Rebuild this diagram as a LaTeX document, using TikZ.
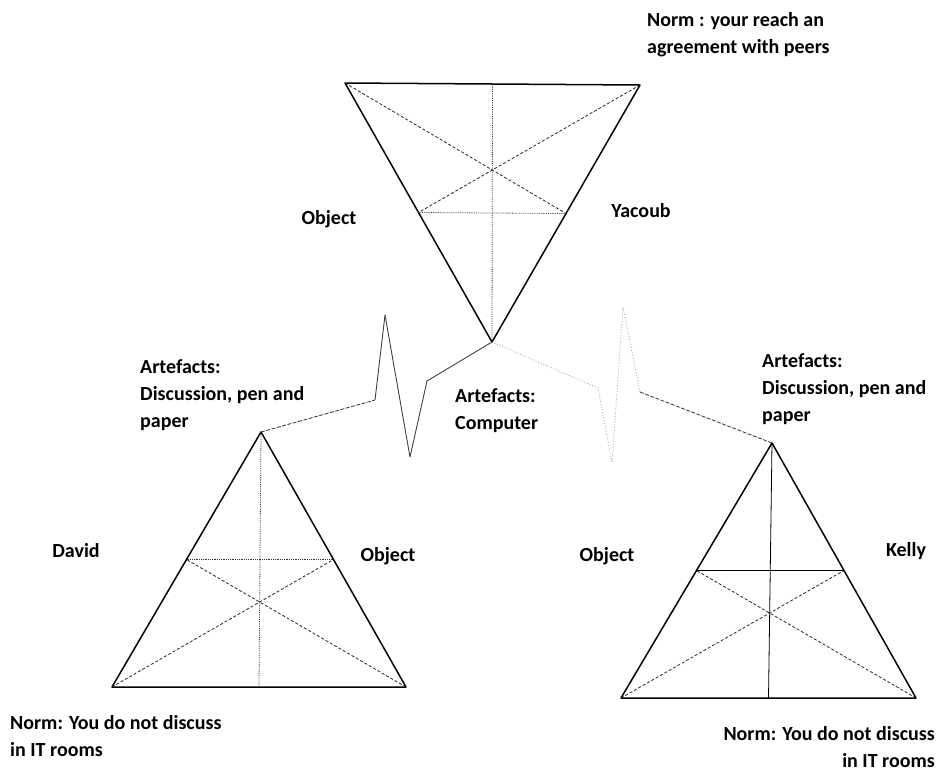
\documentclass[tikz,border=0pt]{standalone}
\usepackage{fontspec}
\setmainfont{Carlito}
\usepackage{tikz}
\usetikzlibrary{calc}
\tikzset{
  tri-edge/.style={draw=black,line width=1.5pt,line join=round},
  tri-median/.style={draw=black!85,line width=0.8pt,dash pattern=on 3pt off 2pt},
  tri-axis/.style={draw=black!80,line width=0.8pt,densely dotted},
  link/.style={draw=black!80,line width=0.8pt,dash pattern=on 4pt off 1.5pt},
  zig-dark/.style={draw=black!75,line width=0.9pt,line join=round},
  zig-faint/.style={draw=black!40,line width=0.8pt,dotted},
  lbl/.style={font=\bfseries\fontsize{20}{27}\selectfont,inner sep=0pt,align=left},
}
\begin{document}
\begin{tikzpicture}[x=1pt,y=-1pt]
  \useasboundingbox (0,0) rectangle (942,772);
  % triangle corners (apex first)
  \coordinate (tb) at (492,342); \coordinate (tl) at (345,83);  \coordinate (tr) at (640,85);
  \coordinate (la) at (261,432); \coordinate (ll) at (112,687); \coordinate (lr) at (406,687);
  \coordinate (ra) at (772,443); \coordinate (rl) at (621,698); \coordinate (rr) at (916,698);
  \foreach \a/\b/\c/\ax in {tb/tl/tr/tri-axis,la/ll/lr/tri-axis,ra/rl/rr/tri-edge}{
    \draw[tri-edge] (\a) -- (\b) -- (\c) -- cycle;
    \draw[\ax,line width=0.8pt] (\a) -- ($(\b)!0.5!(\c)$);
    \draw[tri-median] (\b) -- ($(\a)!0.5!(\c)$);
    \draw[tri-median] (\c) -- ($(\a)!0.5!(\b)$);
    \draw[\ax,line width=0.8pt] ($(\a)!0.5!(\b)$) -- ($(\a)!0.5!(\c)$);
  }
  % zigzag links
  \coordinate (z1) at (375,400); \coordinate (z2) at (385,315);
  \coordinate (z3) at (410,457); \coordinate (z4) at (427,381);
  \coordinate (w1) at (598,388); \coordinate (w2) at (612,463);
  \coordinate (w3) at (623,307); \coordinate (w4) at (640,392);
  \draw[link] (la) -- (z1);
  \draw[zig-dark] (z1) -- (z2) -- (z3) -- (z4) -- (tb);
  \draw[zig-faint] (tb) -- (w1) -- (w2) -- (w3) -- (w4);
  \draw[link] (w4) -- (ra);
  % labels
  \node[lbl,anchor=west] (norm-top) at (647,35) {Norm : your reach an\\agreement with peers};
  \node[lbl,anchor=mid] (obj-top) at (329,222) {Object};
  \node[lbl,anchor=mid] (yacoub) at (641,215) {Yacoub};
  \node[lbl,anchor=west] (art-left) at (140,395) {Artefacts:\\Discussion, pen and\\paper};
  \node[lbl,anchor=west] (art-mid) at (455,411) {Artefacts:\\Computer};
  \node[lbl,anchor=west] (art-right) at (762,389) {Artefacts:\\Discussion, pen and\\paper};
  \node[lbl,anchor=mid] (david) at (76,555) {David};
  \node[lbl,anchor=mid] (obj-left) at (388,559) {Object};
  \node[lbl,anchor=mid] (obj-right) at (607,559) {Object};
  \node[lbl,anchor=mid] (kelly) at (906,554) {Kelly};
  \node[lbl,anchor=west] (norm-left) at (10,736) {Norm: You do not discuss\\in IT rooms};
  \node[lbl,anchor=east,align=right] (norm-right) at (935,747) {Norm: You do not discuss\\in IT rooms};
\end{tikzpicture}
\end{document}
